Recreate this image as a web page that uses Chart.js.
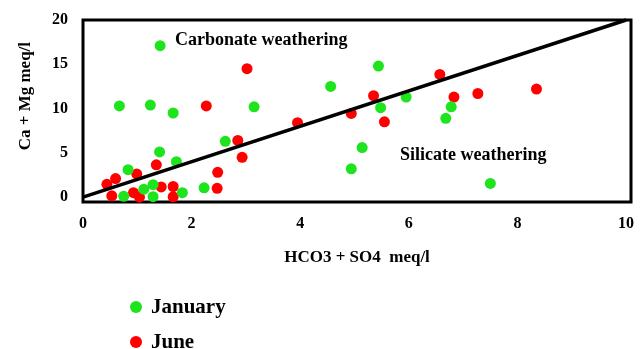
<!DOCTYPE html>
<html>
<head>
<meta charset="utf-8">
<script src="https://cdn.jsdelivr.net/npm/chart.js@4/dist/chart.umd.min.js"></script>
<style>
  html, body { margin: 0; padding: 0; background: #ffffff; }
  #wrap { width: 640px; height: 349px; }
</style>
</head>
<body>
<div id="wrap"><canvas id="c" width="640" height="349"></canvas></div>
<script>
// ---- Data ----
const seriesNames = ["January", "June"];
const xTicks = [0, 2, 4, 6, 8, 10];
const yTicks = [0, 5, 10, 15, 20];

const januaryX = [1.42, 0.67, 1.24, 1.66, 3.15, 2.62, 1.41, 1.72, 0.83, 1.29, 1.12, 1.83, 2.23, 0.75, 1.29, 4.56, 5.44, 5.95, 5.48, 5.14, 4.94, 6.78, 6.68, 7.50];
const januaryY = [17.1, 10.3, 10.4, 9.5, 10.2, 6.3, 5.1, 4.0, 3.1, 1.4, 0.9, 0.5, 1.05, 0.1, 0.05, 12.5, 14.8, 11.3, 10.1, 5.6, 3.2, 10.2, 8.9, 1.55];

const juneX = [3.02, 2.27, 2.85, 2.93, 1.35, 0.60, 0.99, 0.44, 2.48, 1.44, 1.66, 2.47, 0.53, 0.93, 1.04, 1.66, 3.95, 4.94, 5.35, 5.55, 6.57, 6.83, 7.27, 8.35];
const juneY = [14.5, 10.3, 6.4, 4.5, 3.65, 2.1, 2.6, 1.45, 2.8, 1.15, 1.2, 1.0, 0.15, 0.5, 0.0, 0.03, 8.4, 9.45, 11.45, 8.5, 13.85, 11.3, 11.7, 12.2];

// 1:1 equiline endpoints (Ca+Mg = HCO3+SO4 scaled as in the figure)
const lineX = [0, 10];
const lineY = [0, 20];

const annotations = ["Carbonate weathering", "Silicate weathering"];

const toPts = (xs, ys) => xs.map((x, i) => ({ x: x, y: ys[i] }));

const GREEN = '#1de41d';
const RED = '#ff0000';
const FONT = "'Liberation Serif', 'Times New Roman', serif";

const framePlugin = {
  id: 'frame',
  beforeDatasetsDraw(chart) {
    const { ctx, chartArea: a } = chart;
    ctx.save();
    ctx.strokeStyle = '#000';
    ctx.lineWidth = 3;
    ctx.strokeRect(a.left, a.top, a.right - a.left, a.bottom - a.top);
    ctx.restore();
  },
  afterDraw(chart) {
    const { ctx } = chart;
    ctx.save();
    ctx.fillStyle = '#000';
    ctx.textBaseline = 'middle';
    ctx.textAlign = 'left';
    ctx.font = "bold 18px " + FONT;
    ctx.fillText(annotations[0], 175, 40);
    ctx.fillText(annotations[1], 400, 155);
    // legend
    const colors = [GREEN, RED];
    const ys = [307, 342];
    ctx.font = "bold 21px " + FONT;
    seriesNames.forEach((n, i) => {
      ctx.beginPath();
      ctx.fillStyle = colors[i];
      ctx.arc(136, ys[i], 6, 0, Math.PI * 2);
      ctx.fill();
      ctx.fillStyle = '#000';
      ctx.fillText(n, 151, ys[i] + 1);
    });
    ctx.restore();
  }
};

new Chart(document.getElementById('c'), {
  type: 'scatter',
  data: {
    datasets: [
      {
        type: 'line',
        label: '1:1',
        data: toPts(lineX, lineY),
        borderColor: '#000',
        borderWidth: 3.5,
        pointRadius: 0,
        fill: false,
        clip: false
      },
      {
        label: seriesNames[0],
        data: toPts(januaryX, januaryY),
        backgroundColor: GREEN,
        borderWidth: 0,
        pointRadius: 5.5,
        clip: false
      },
      {
        label: seriesNames[1],
        data: toPts(juneX, juneY),
        backgroundColor: RED,
        borderWidth: 0,
        pointRadius: 5.5,
        clip: false
      }
    ]
  },
  options: {
    responsive: false,
    animation: false,
    layout: { padding: { left: 0, top: 20, right: 9, bottom: 77 } },
    plugins: {
      legend: { display: false },
      tooltip: { enabled: false }
    },
    scales: {
      x: {
        type: 'linear',
        min: 0,
        max: 10.09,
        grid: { display: false, drawTicks: false },
        border: { display: false },
        afterBuildTicks: (s) => { s.ticks = xTicks.map(v => ({ value: v })); },
        afterFit: (s) => { s.height = 70; s.paddingLeft = 0; s.paddingRight = 0; },
        ticks: {
          color: '#000',
          padding: 12,
          maxRotation: 0,
          font: { family: FONT, size: 16, weight: 'bold' }
        },
        title: {
          display: true,
          text: 'HCO3 + SO4  meq/l',
          color: '#000',
          padding: { top: 0, bottom: 4 },
          font: { family: FONT, size: 17, weight: 'bold' }
        }
      },
      y: {
        type: 'linear',
        min: -0.55,
        max: 20,
        grid: { display: false, drawTicks: false },
        border: { display: false },
        afterBuildTicks: (s) => { s.ticks = yTicks.map(v => ({ value: v })); },
        afterFit: (s) => { s.width = 83; s.paddingTop = 0; s.paddingBottom = 0; },
        ticks: {
          color: '#000',
          padding: 15,
          font: { family: FONT, size: 16, weight: 'bold' }
        },
        title: {
          display: true,
          text: '       Ca + Mg meq/l',
          color: '#000',
          padding: { top: 15, bottom: 0 },
          font: { family: FONT, size: 17, weight: 'bold' }
        }
      }
    }
  },
  plugins: [framePlugin]
});
</script>
</body>
</html>
